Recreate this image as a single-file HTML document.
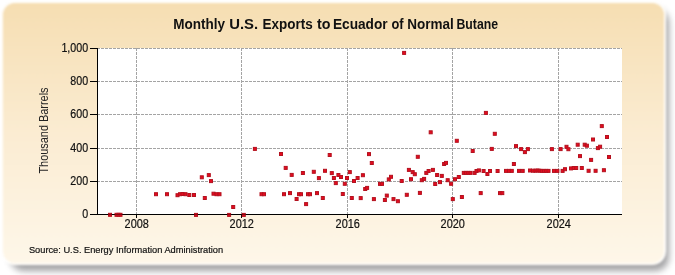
<!DOCTYPE html>
<html><head><meta charset="utf-8">
<style>
html,body{margin:0;padding:0;background:#fff;}
body{width:675px;height:275px;overflow:hidden;position:relative;}
.shadow{position:absolute;left:10px;top:9px;width:659px;height:262px;border-radius:14px;background:rgba(50,50,55,0.45);filter:blur(3px);}
.box{position:absolute;left:1px;top:1px;width:664.5px;height:264px;border-radius:14px;box-sizing:border-box;
border:2px solid rgba(255,255,255,0.9);
background:linear-gradient(to bottom,#F6DEB2 0%,#FBECD2 50%,#FEF7E9 100%);}
.frame{position:absolute;left:0;top:0;width:675px;height:275px;filter:blur(1px);}
svg{position:absolute;left:0;top:0;will-change:transform;}
.g{stroke:#a4a4a4;stroke-width:1;stroke-dasharray:3 1;}
.gv{stroke:#a4a4a4;stroke-width:1;stroke-dasharray:3 1;}
.ax{stroke:#000;stroke-width:1;}
text{font-family:"Liberation Sans",sans-serif;fill:#111;}
.tl,.src{stroke:#111;stroke-width:0.2;}
.tl{font-size:12px;}
.yl{font-size:12px;fill:#222;}
.title{font-size:14px;font-weight:bold;}
.src{font-size:9.8px;}
.pts rect{fill:#E60A1E;stroke:#B3121F;stroke-width:1;}
</style></head><body>
<div class="frame"><div class="shadow"></div><div class="box"></div></div>
<svg width="675" height="275" viewBox="0 0 675 275">
<rect x="97" y="48" width="525" height="166" fill="#fff"/>
<line x1="97" y1="48.5" x2="622" y2="48.5" class="g"/><line x1="97" y1="81.5" x2="622" y2="81.5" class="g"/><line x1="97" y1="114.5" x2="622" y2="114.5" class="g"/><line x1="97" y1="148.5" x2="622" y2="148.5" class="g"/><line x1="97" y1="181.5" x2="622" y2="181.5" class="g"/><line x1="136.5" y1="48" x2="136.5" y2="214" class="gv"/><line x1="241.5" y1="48" x2="241.5" y2="214" class="gv"/><line x1="347.5" y1="48" x2="347.5" y2="214" class="gv"/><line x1="452.5" y1="48" x2="452.5" y2="214" class="gv"/><line x1="558.5" y1="48" x2="558.5" y2="214" class="gv"/>
<line x1="97.5" y1="48" x2="97.5" y2="215" class="ax"/>
<line x1="97" y1="214.5" x2="622" y2="214.5" class="ax"/>
<line x1="90" y1="48.5" x2="97" y2="48.5" class="ax"/><line x1="90" y1="81.5" x2="97" y2="81.5" class="ax"/><line x1="90" y1="114.5" x2="97" y2="114.5" class="ax"/><line x1="90" y1="148.5" x2="97" y2="148.5" class="ax"/><line x1="90" y1="181.5" x2="97" y2="181.5" class="ax"/><line x1="90" y1="214.5" x2="97" y2="214.5" class="ax"/><line x1="136.5" y1="214" x2="136.5" y2="218" class="ax"/><line x1="241.5" y1="214" x2="241.5" y2="218" class="ax"/><line x1="347.5" y1="214" x2="347.5" y2="218" class="ax"/><line x1="452.5" y1="214" x2="452.5" y2="218" class="ax"/><line x1="558.5" y1="214" x2="558.5" y2="218" class="ax"/>
<g class="pts"><rect x="108.5" y="213.3" width="3" height="3"/><rect x="115.0" y="213.3" width="3" height="3"/><rect x="117.0" y="213.3" width="3" height="3"/><rect x="119.0" y="213.3" width="3" height="3"/><rect x="154.5" y="192.7" width="3" height="3"/><rect x="165.5" y="192.7" width="3" height="3"/><rect x="176.0" y="193.7" width="3" height="3"/><rect x="178.5" y="192.7" width="3" height="3"/><rect x="181.0" y="192.5" width="3" height="3"/><rect x="184.0" y="192.7" width="3" height="3"/><rect x="187.8" y="193.5" width="3" height="3"/><rect x="192.5" y="193.5" width="3" height="3"/><rect x="194.5" y="213.4" width="3" height="3"/><rect x="200.3" y="175.8" width="3" height="3"/><rect x="203.3" y="196.5" width="3" height="3"/><rect x="207.3" y="173.6" width="3" height="3"/><rect x="209.5" y="179.6" width="3" height="3"/><rect x="212.0" y="192.2" width="3" height="3"/><rect x="215.0" y="192.7" width="3" height="3"/><rect x="218.0" y="192.7" width="3" height="3"/><rect x="227.6" y="213.4" width="3" height="3"/><rect x="231.7" y="205.5" width="3" height="3"/><rect x="242.3" y="213.4" width="3" height="3"/><rect x="253.4" y="147.4" width="3" height="3"/><rect x="260.0" y="192.7" width="3" height="3"/><rect x="262.5" y="192.7" width="3" height="3"/><rect x="279.5" y="152.5" width="3" height="3"/><rect x="282.5" y="192.7" width="3" height="3"/><rect x="284.2" y="166.4" width="3" height="3"/><rect x="288.5" y="191.6" width="3" height="3"/><rect x="290.2" y="173.4" width="3" height="3"/><rect x="295.1" y="197.5" width="3" height="3"/><rect x="297.5" y="192.7" width="3" height="3"/><rect x="299.5" y="192.7" width="3" height="3"/><rect x="301.4" y="171.5" width="3" height="3"/><rect x="304.6" y="202.6" width="3" height="3"/><rect x="306.5" y="192.7" width="3" height="3"/><rect x="308.5" y="192.7" width="3" height="3"/><rect x="312.3" y="170.3" width="3" height="3"/><rect x="315.5" y="191.6" width="3" height="3"/><rect x="317.4" y="176.6" width="3" height="3"/><rect x="321.3" y="196.5" width="3" height="3"/><rect x="323.5" y="169.3" width="3" height="3"/><rect x="328.2" y="153.5" width="3" height="3"/><rect x="330.3" y="171.6" width="3" height="3"/><rect x="332.4" y="176.5" width="3" height="3"/><rect x="334.3" y="181.6" width="3" height="3"/><rect x="336.9" y="173.5" width="3" height="3"/><rect x="339.5" y="175.5" width="3" height="3"/><rect x="341.3" y="192.5" width="3" height="3"/><rect x="343.3" y="182.3" width="3" height="3"/><rect x="345.5" y="176.5" width="3" height="3"/><rect x="348.3" y="170.6" width="3" height="3"/><rect x="350.3" y="196.5" width="3" height="3"/><rect x="352.5" y="179.5" width="3" height="3"/><rect x="356.1" y="176.5" width="3" height="3"/><rect x="359.2" y="196.6" width="3" height="3"/><rect x="361.4" y="173.7" width="3" height="3"/><rect x="363.7" y="187.5" width="3" height="3"/><rect x="365.6" y="186.4" width="3" height="3"/><rect x="367.5" y="152.6" width="3" height="3"/><rect x="370.3" y="161.5" width="3" height="3"/><rect x="372.4" y="197.6" width="3" height="3"/><rect x="378.5" y="182.4" width="3" height="3"/><rect x="380.5" y="182.4" width="3" height="3"/><rect x="383.4" y="198.5" width="3" height="3"/><rect x="385.3" y="194.1" width="3" height="3"/><rect x="387.3" y="177.9" width="3" height="3"/><rect x="389.5" y="175.3" width="3" height="3"/><rect x="392.0" y="197.6" width="3" height="3"/><rect x="396.4" y="199.7" width="3" height="3"/><rect x="400.2" y="179.5" width="3" height="3"/><rect x="402.6" y="51.4" width="3" height="3"/><rect x="405.3" y="193.3" width="3" height="3"/><rect x="407.4" y="168.4" width="3" height="3"/><rect x="409.5" y="177.7" width="3" height="3"/><rect x="411.2" y="170.6" width="3" height="3"/><rect x="413.3" y="172.7" width="3" height="3"/><rect x="416.3" y="155.3" width="3" height="3"/><rect x="418.4" y="191.4" width="3" height="3"/><rect x="420.3" y="178.7" width="3" height="3"/><rect x="422.6" y="177.4" width="3" height="3"/><rect x="424.8" y="171.4" width="3" height="3"/><rect x="427.1" y="169.5" width="3" height="3"/><rect x="429.2" y="130.8" width="3" height="3"/><rect x="431.4" y="168.4" width="3" height="3"/><rect x="433.7" y="182.5" width="3" height="3"/><rect x="435.6" y="173.5" width="3" height="3"/><rect x="438.5" y="180.6" width="3" height="3"/><rect x="440.3" y="174.4" width="3" height="3"/><rect x="442.6" y="162.5" width="3" height="3"/><rect x="444.5" y="161.4" width="3" height="3"/><rect x="446.2" y="178.7" width="3" height="3"/><rect x="449.6" y="182.3" width="3" height="3"/><rect x="451.3" y="197.6" width="3" height="3"/><rect x="453.5" y="177.7" width="3" height="3"/><rect x="455.3" y="139.3" width="3" height="3"/><rect x="457.3" y="175.5" width="3" height="3"/><rect x="460.4" y="195.5" width="3" height="3"/><rect x="462.3" y="171.4" width="3" height="3"/><rect x="464.5" y="171.4" width="3" height="3"/><rect x="466.7" y="171.4" width="3" height="3"/><rect x="469.0" y="171.4" width="3" height="3"/><rect x="471.2" y="149.5" width="3" height="3"/><rect x="473.1" y="171.4" width="3" height="3"/><rect x="475.0" y="169.5" width="3" height="3"/><rect x="477.4" y="168.9" width="3" height="3"/><rect x="479.2" y="191.6" width="3" height="3"/><rect x="482.1" y="169.5" width="3" height="3"/><rect x="484.4" y="111.4" width="3" height="3"/><rect x="485.9" y="172.5" width="3" height="3"/><rect x="488.5" y="169.5" width="3" height="3"/><rect x="490.3" y="147.4" width="3" height="3"/><rect x="493.3" y="132.3" width="3" height="3"/><rect x="496.1" y="169.5" width="3" height="3"/><rect x="498.5" y="191.6" width="3" height="3"/><rect x="500.8" y="191.6" width="3" height="3"/><rect x="504.5" y="169.4" width="3" height="3"/><rect x="507.5" y="169.4" width="3" height="3"/><rect x="510.3" y="169.4" width="3" height="3"/><rect x="512.4" y="162.5" width="3" height="3"/><rect x="514.5" y="144.6" width="3" height="3"/><rect x="517.5" y="169.4" width="3" height="3"/><rect x="519.6" y="147.6" width="3" height="3"/><rect x="521.2" y="169.4" width="3" height="3"/><rect x="523.4" y="150.6" width="3" height="3"/><rect x="526.4" y="147.6" width="3" height="3"/><rect x="528.5" y="169.0" width="3" height="3"/><rect x="531.5" y="169.2" width="3" height="3"/><rect x="534.0" y="169.2" width="3" height="3"/><rect x="536.0" y="169.0" width="3" height="3"/><rect x="538.0" y="169.2" width="3" height="3"/><rect x="540.2" y="169.4" width="3" height="3"/><rect x="542.5" y="169.4" width="3" height="3"/><rect x="544.7" y="169.4" width="3" height="3"/><rect x="547.0" y="169.4" width="3" height="3"/><rect x="550.4" y="147.6" width="3" height="3"/><rect x="552.5" y="169.4" width="3" height="3"/><rect x="555.9" y="169.4" width="3" height="3"/><rect x="559.1" y="147.6" width="3" height="3"/><rect x="561.1" y="169.4" width="3" height="3"/><rect x="563.5" y="167.7" width="3" height="3"/><rect x="565.0" y="145.3" width="3" height="3"/><rect x="566.9" y="147.7" width="3" height="3"/><rect x="569.5" y="166.9" width="3" height="3"/><rect x="572.2" y="166.5" width="3" height="3"/><rect x="574.7" y="166.5" width="3" height="3"/><rect x="576.2" y="143.2" width="3" height="3"/><rect x="578.5" y="154.6" width="3" height="3"/><rect x="580.3" y="166.5" width="3" height="3"/><rect x="583.2" y="143.2" width="3" height="3"/><rect x="585.4" y="144.2" width="3" height="3"/><rect x="587.1" y="169.3" width="3" height="3"/><rect x="589.6" y="158.4" width="3" height="3"/><rect x="591.5" y="138.0" width="3" height="3"/><rect x="594.1" y="169.3" width="3" height="3"/><rect x="596.4" y="146.6" width="3" height="3"/><rect x="598.6" y="145.2" width="3" height="3"/><rect x="600.3" y="124.6" width="3" height="3"/><rect x="602.4" y="168.7" width="3" height="3"/><rect x="605.5" y="135.5" width="3" height="3"/><rect x="607.5" y="155.5" width="3" height="3"/></g>
<line x1="97" y1="214.5" x2="622" y2="214.5" stroke="#000" stroke-opacity="0.35"/>
<text transform="translate(88.1,52.4) scale(0.89,1)" text-anchor="end" class="tl">1,000</text><text transform="translate(88.1,85.4) scale(0.89,1)" text-anchor="end" class="tl">800</text><text transform="translate(88.1,118.4) scale(0.89,1)" text-anchor="end" class="tl">600</text><text transform="translate(88.1,152.4) scale(0.89,1)" text-anchor="end" class="tl">400</text><text transform="translate(88.1,185.4) scale(0.89,1)" text-anchor="end" class="tl">200</text><text transform="translate(88.1,218.4) scale(0.89,1)" text-anchor="end" class="tl">0</text><text transform="translate(136.7,227.6) scale(0.91,1)" text-anchor="middle" class="tl">2008</text><text transform="translate(241.7,227.6) scale(0.91,1)" text-anchor="middle" class="tl">2012</text><text transform="translate(347.7,227.6) scale(0.91,1)" text-anchor="middle" class="tl">2016</text><text transform="translate(452.7,227.6) scale(0.91,1)" text-anchor="middle" class="tl">2020</text><text transform="translate(558.7,227.6) scale(0.91,1)" text-anchor="middle" class="tl">2024</text>
<text x="173.2" y="28.9" textLength="51.8" lengthAdjust="spacingAndGlyphs" class="title">Monthly</text><text x="229.2" y="28.9" textLength="28.91" lengthAdjust="spacingAndGlyphs" class="title">U.S.</text><text x="262.5" y="28.9" textLength="50.2" lengthAdjust="spacingAndGlyphs" class="title">Exports</text><text x="316.9" y="28.9" textLength="13.52" lengthAdjust="spacingAndGlyphs" class="title">to</text><text x="332.9" y="28.9" textLength="54.77" lengthAdjust="spacingAndGlyphs" class="title">Ecuador</text><text x="391.5" y="28.9" textLength="12.12" lengthAdjust="spacingAndGlyphs" class="title">of</text><text x="407.2" y="28.9" textLength="46.54" lengthAdjust="spacingAndGlyphs" class="title">Normal</text><text x="456.5" y="28.9" textLength="41.52" lengthAdjust="spacingAndGlyphs" class="title">Butane</text>
<text x="28.9" y="253" textLength="194.3" lengthAdjust="spacingAndGlyphs" class="src">Source: U.S. Energy Information Administration</text>
<text transform="translate(47.6,130.5) rotate(-90) scale(0.91,1)" text-anchor="middle" class="yl">Thousand Barrels</text>
</svg>
</body></html>
